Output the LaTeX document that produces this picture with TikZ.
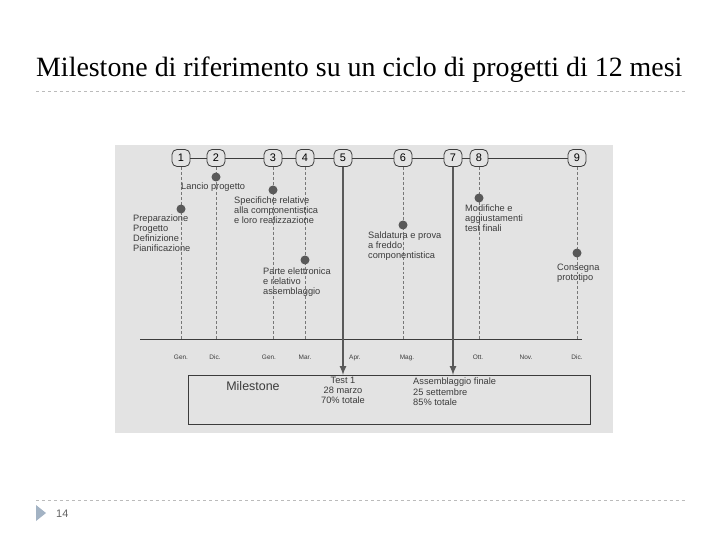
\documentclass[tikz,border=0pt]{standalone}
\usepackage{fontspec}
\setmainfont{Liberation Serif}
\setsansfont{Liberation Sans}
\usetikzlibrary{arrows}

\definecolor{scan}{HTML}{E3E3E3}
\definecolor{ink}{HTML}{3C3C3C}
\definecolor{rulegray}{HTML}{BBBBBB}
\definecolor{bullet}{HTML}{A3B3C4}

\begin{document}
\begin{tikzpicture}[x=1bp,y=-1bp,>=latex,
      mile node/.style={draw=ink,thick,fill=scan,rounded corners=5bp,
        minimum width=18bp,minimum height=17bp,inner sep=0pt,
        font=\sffamily\fontsize{11}{12}\selectfont},
      dot node/.style={circle,fill=ink!85,inner sep=0pt,minimum size=9bp},
      lbl/.style={anchor=north west,align=left,inner sep=0pt,text=ink,
        font=\sffamily\fontsize{9.3}{10}\selectfont},
      month/.style={anchor=base,text=ink,font=\sffamily\fontsize{6.5}{7}\selectfont}]

      \useasboundingbox (0,0) rectangle (720,540);

      % title and slide rules
      \node[anchor=base west,inner sep=0pt,font=\fontsize{28}{32}\selectfont] (title) at (36,77)
        {Milestone di riferimento su un ciclo di progetti di 12 mesi};
      \draw[rulegray,dashed] (36,91) -- (685,91);
      \draw[rulegray,dashed] (36,500) -- (685,500);
      \fill[bullet] (36,505) -- (46,513) -- (36,521) -- cycle;
      \node[anchor=west,inner sep=0pt,text=ink!80,font=\sffamily\fontsize{11}{12}\selectfont] (page) at (56,514) {14};

      % scanned figure
      \fill[scan] (115,145) rectangle (613,433);

      \coordinate (ax) at (0,339);
      \draw[ink,thick] (140,339) -- (582,339);

      \foreach \n/\x in {1/181,2/216,3/273,4/305,5/343,6/403,7/453,8/479,9/577}
        \node[mile node] (m\n) at (\x,158) {\n};
      \foreach \a/\b in {1/2,2/3,3/4,4/5,5/6,6/7,7/8,8/9}
        \draw[ink,thick] (m\a) -- (m\b);
      \foreach \n in {1,2,3,4,6,8,9}
        \draw[ink!70,densely dashed] (m\n) -- (m\n |- ax);

      \node[dot node] (d1) at (181,209) {};
      \node[dot node] (d2) at (216,177) {};
      \node[dot node] (d3) at (273,190) {};
      \node[dot node] (d4) at (305,260) {};
      \node[dot node] (d6) at (403,225) {};
      \node[dot node] (d8) at (479,198) {};
      \node[dot node] (d9) at (577,253) {};

      \node[lbl] (t1) at (133,215) {Preparazione\\Progetto\\Definizione\\Pianificazione};
      \node[lbl] (t2) at (181,183) {Lancio progetto};
      \node[lbl] (t3) at (234,197) {Specifiche relative\\alla componentistica\\e loro realizzazione};
      \node[lbl] (t4) at (263,268) {Parte elettronica\\e relativo\\assemblaggio};
      \node[lbl] (t6) at (368,232) {Saldatura e prova\\a freddo\\componentistica};
      \node[lbl] (t8) at (465,205) {Modifiche e\\aggiustamenti\\test finali};
      \node[lbl] (t9) at (557,264) {Consegna\\prototipo};

      \foreach \m/\x in {Gen./181,Dic./215,Gen./269,Mar./305,Apr./355,Mag./407,Ott./478,Nov./526,Dic./577}
        \node[month] at (\x,359) {\m};

      % milestone box
      \node[draw=ink,thick,minimum width=402bp,minimum height=49bp,anchor=north west,inner sep=0pt] (box) at (188,375) {};
      \node[text=ink,font=\sffamily\fontsize{12.5}{14}\selectfont] (mtitle) at (253,386) {Milestone};
      \node[anchor=north,align=center,inner sep=0pt,text=ink,font=\sffamily\fontsize{9.3}{10}\selectfont] (test) at (343,377)
        {Test 1\\28 marzo\\70\% totale};
      \node[anchor=north west,align=left,inner sep=0pt,text=ink,font=\sffamily\fontsize{9.3}{10.5}\selectfont] (asm) at (413,378)
        {Assemblaggio finale\\25 settembre\\85\% totale};

      \draw[->,ink!85,line width=2pt] (m5) -- (m5 |- box.north);
      \draw[->,ink!85,line width=2pt] (m7) -- (m7 |- box.north);
    \end{tikzpicture}
\end{document}
